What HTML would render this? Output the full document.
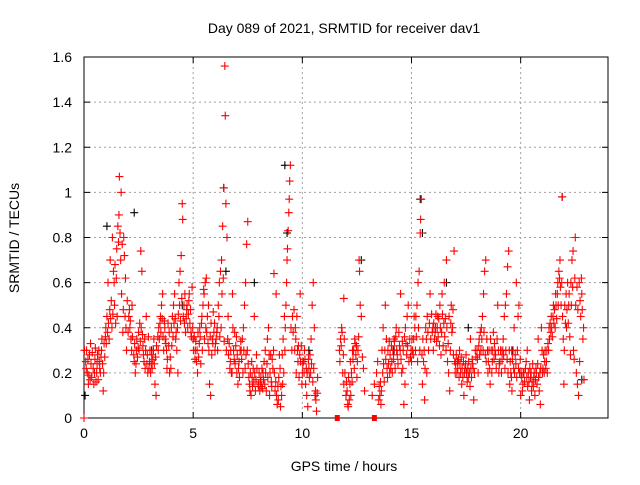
<!DOCTYPE html>
<html><head><meta charset="utf-8"><style>
body{margin:0;background:#fff}
svg text{font-family:"Liberation Sans",sans-serif;font-size:14px;fill:#000}
</style></head><body>
<svg id="c" width="640" height="480" xmlns="http://www.w3.org/2000/svg">
<text x="344" y="33" text-anchor="middle">Day 089 of 2021, SRMTID for receiver dav1</text>
<text x="344" y="471" text-anchor="middle">GPS time / hours</text>
<text transform="translate(19,238) rotate(-90)" text-anchor="middle">SRMTID / TECUs</text>
<g id="grid"></g>
<g id="axes"></g>
<g id="marks"></g>
</svg>
<script>
const xTicks=[0,5,10,15,20];
const yTicks=[0,0.2,0.4,0.6,0.8,1,1.2,1.4,1.6];
const yTickLabels=["0","0.2","0.4","0.6","0.8","1","1.2","1.4","1.6"];
const blackPts=[[0.05,0.1],[1.05,0.85],[2.3,0.91],[6.4,1.02],[6.5,0.65],[9.2,1.12],[9.3,0.82],[15.4,0.97],[15.5,0.82],[21.9,0.98],[22.8,0.17],[3.1,0.3],[7.8,0.6],[12.7,0.7],[17.6,0.4],[19.6,0.3],[4.5,0.5],[10.3,0.3],[14.2,0.3],[16.6,0.6]];
const redPts=[[0.0,0],[0.02,0.3],[0.08,0.25],[0.15,0.2],[0.2,0.15],[0.25,0.28],[0.3,0.33],[0.35,0.18],[0.42,0.22],[0.5,0.26],[0.55,0.16],[0.6,0.24],[0.68,0.3],[0.75,0.2],[0.82,0.35],[0.88,0.12],[0.95,0.27],
[1.0,0.4],[1.05,0.45],[1.1,0.6],[1.2,0.7],[1.3,0.8],[1.35,0.65],[1.4,0.5],[1.45,0.42],[1.5,0.75],[1.55,0.85],[1.6,0.9],[1.62,1.07],[1.7,1.0],[1.72,0.55],[1.78,0.38],[1.8,0.48],[1.85,0.72],[1.9,0.62],[1.95,0.3],[1.98,0.52],
[2.05,0.45],[2.1,0.4],[2.15,0.35],[2.2,0.5],[2.3,0.25],[2.35,0.2],[2.4,0.3],[2.5,0.38],[2.55,0.42],[2.6,0.74],[2.65,0.65],[2.7,0.32],[2.8,0.22],[2.85,0.45],[2.9,0.28],[2.95,0.36],
[3.0,0.25],[3.05,0.2],[3.1,0.28],[3.2,0.35],[3.25,0.15],[3.3,0.1],[3.4,0.3],[3.5,0.45],[3.55,0.5],[3.6,0.55],[3.7,0.4],[3.75,0.33],[3.8,0.22],[3.9,0.38],[3.95,0.27],
[4.0,0.4],[4.05,0.45],[4.1,0.5],[4.15,0.55],[4.2,0.35],[4.25,0.3],[4.3,0.2],[4.35,0.6],[4.4,0.65],[4.45,0.72],[4.5,0.95],[4.52,0.88],[4.6,0.42],[4.7,0.48],[4.8,0.52],[4.9,0.38],[4.95,0.58],
[5.0,0.35],[5.1,0.3],[5.15,0.25],[5.2,0.2],[5.3,0.4],[5.4,0.45],[5.5,0.55],[5.55,0.6],[5.6,0.62],[5.7,0.5],[5.75,0.15],[5.8,0.1],[5.85,0.28],[5.9,0.33],[5.95,0.38],
[6.0,0.3],[6.05,0.35],[6.1,0.4],[6.15,0.5],[6.2,0.6],[6.25,0.65],[6.3,0.7],[6.35,0.85],[6.4,1.02],[6.45,1.56],[6.47,1.34],[6.5,0.95],[6.55,0.8],[6.6,0.45],[6.7,0.25],[6.75,0.2],[6.8,0.55],[6.9,0.38],[6.95,0.32],
[7.0,0.2],[7.05,0.15],[7.1,0.25],[7.2,0.3],[7.25,0.35],[7.3,0.4],[7.35,0.5],[7.4,0.6],[7.45,0.77],[7.5,0.87],[7.6,0.12],[7.7,0.18],[7.75,0.22],[7.8,0.45],[7.9,0.28],
[8.0,0.15],[8.05,0.12],[8.1,0.18],[8.2,0.2],[8.25,0.25],[8.3,0.3],[8.4,0.35],[8.45,0.4],[8.5,0.1],[8.6,0.14],[8.65,0.22],[8.7,0.64],[8.8,0.55],[8.9,0.08],[8.95,0.28],
[9.0,0.05],[9.05,0.1],[9.1,0.15],[9.15,0.2],[9.2,0.3],[9.22,0.4],[9.25,0.5],[9.28,0.6],[9.3,0.7],[9.32,0.75],[9.35,0.83],[9.38,0.91],[9.4,0.97],[9.42,1.05],[9.45,1.12],[9.55,0.45],[9.7,0.35],[9.8,0.25],[9.9,0.55],
[10.0,0.2],[10.05,0.25],[10.1,0.3],[10.15,0.15],[10.2,0.1],[10.25,0.05],[10.3,0.22],[10.35,0.28],[10.4,0.35],[10.45,0.5],[10.5,0.6],[10.55,0.4],[10.6,0.12],[10.65,0.03],[10.7,0.18],
[11.7,0.3],[11.75,0.35],[11.8,0.4],[11.85,0.2],[11.9,0.15],[12.0,0.1],[12.1,0.05],[12.15,0.08],[12.2,0.25],[12.3,0.3],[12.4,0.35],[12.5,0.18],[12.6,0.7],[12.62,0.65],[12.65,0.5],[12.7,0.45],[12.8,0.22],[12.85,0.12],[11.9,0.53],
[13.2,0.1],[13.3,0.15],[13.4,0.2],[13.45,0.25],[13.5,0.08],[13.6,0.06],[13.65,0.3],[13.7,0.4],[13.8,0.5],[13.85,0.35],[13.9,0.18],
[14.0,0.2],[14.1,0.25],[14.15,0.3],[14.2,0.35],[14.3,0.4],[14.35,0.28],[14.45,0.32],[14.5,0.55],[14.6,0.22],[14.65,0.06],[14.7,0.15],[14.8,0.45],[14.85,0.5],[14.95,0.27],
[15.0,0.25],[15.05,0.3],[15.1,0.35],[15.15,0.4],[15.2,0.45],[15.25,0.5],[15.3,0.6],[15.35,0.65],[15.4,0.82],[15.42,0.88],[15.45,0.97],[15.5,0.15],[15.6,0.08],[15.7,0.2],[15.85,0.55],
[16.0,0.3],[16.05,0.35],[16.1,0.4],[16.2,0.45],[16.3,0.5],[16.4,0.55],[16.5,0.6],[16.6,0.7],[16.65,0.25],[16.7,0.2],[16.75,0.12],[16.8,0.42],[16.85,0.38],[16.9,0.48],[16.95,0.74],
[17.0,0.2],[17.1,0.25],[17.2,0.3],[17.3,0.15],[17.4,0.1],[17.45,0.22],[17.5,0.28],[17.6,0.18],[17.7,0.35],[17.8,0.24],[17.85,0.08],[17.95,0.27],
[18.0,0.3],[18.1,0.35],[18.2,0.4],[18.25,0.45],[18.3,0.55],[18.35,0.65],[18.4,0.7],[18.5,0.2],[18.6,0.15],[18.7,0.25],[18.8,0.33],[18.85,0.28],[18.95,0.5],
[19.0,0.2],[19.05,0.25],[19.1,0.3],[19.2,0.35],[19.25,0.45],[19.3,0.5],[19.35,0.55],[19.4,0.67],[19.45,0.74],[19.5,0.15],[19.6,0.12],[19.7,0.4],[19.8,0.6],[19.9,0.22],
[20.0,0.1],[20.1,0.15],[20.15,0.2],[20.25,0.25],[20.3,0.3],[20.4,0.08],[20.5,0.12],[20.6,0.18],[20.7,0.22],[20.8,0.35],[20.9,0.06],[20.95,0.4],
[21.0,0.2],[21.1,0.25],[21.2,0.3],[21.3,0.4],[21.4,0.45],[21.5,0.5],[21.6,0.55],[21.7,0.6],[21.75,0.65],[21.8,0.7],[21.9,0.98],[21.95,0.35],[21.98,0.15],
[22.0,0.3],[22.1,0.4],[22.2,0.5],[22.3,0.6],[22.35,0.7],[22.4,0.74],[22.5,0.8],[22.55,0.2],[22.6,0.15],[22.65,0.1],[22.7,0.25],[22.75,0.45],[22.8,0.55],[22.85,0.35],[22.9,0.17]];
const redDense=[[0.1,0.22],[0.12,0.3],[0.18,0.26],[0.22,0.19],[0.28,0.17],[0.32,0.24],[0.38,0.29],[0.45,0.15],[0.48,0.2],[0.52,0.31],[0.58,0.2],[0.62,0.28],[0.65,0.17],[0.7,0.25],[0.72,0.22],[0.78,0.27],[0.8,0.3],[0.85,0.24],[0.9,0.2],[0.92,0.33],[0.98,0.36],
[1.02,0.33],[1.08,0.38],[1.12,0.42],[1.15,0.35],[1.18,0.48],[1.22,0.44],[1.25,0.52],[1.28,0.4],[1.32,0.46],[1.38,0.6],[1.42,0.68],[1.48,0.62],[1.52,0.45],[1.58,0.78],[1.65,0.82],[1.68,0.7],[1.75,0.77],[1.82,0.8],[1.88,0.45],[1.92,0.4],
[2.02,0.38],[2.08,0.48],[2.12,0.43],[2.18,0.3],[2.22,0.36],[2.28,0.28],[2.32,0.33],[2.38,0.24],[2.42,0.35],[2.45,0.27],[2.48,0.31],[2.52,0.3],[2.58,0.34],[2.62,0.4],[2.68,0.37],[2.72,0.28],[2.75,0.25],[2.78,0.35],[2.82,0.3],[2.88,0.24],[2.92,0.2],[2.98,0.22],
[3.02,0.3],[3.08,0.24],[3.12,0.22],[3.15,0.26],[3.18,0.3],[3.22,0.24],[3.28,0.27],[3.32,0.32],[3.38,0.36],[3.42,0.4],[3.45,0.35],[3.48,0.42],[3.52,0.38],[3.58,0.44],[3.62,0.36],[3.65,0.3],[3.68,0.43],[3.72,0.35],[3.78,0.3],[3.82,0.26],[3.85,0.42],[3.88,0.32],[3.92,0.2],[3.98,0.22],
[4.02,0.32],[4.08,0.36],[4.12,0.42],[4.18,0.44],[4.22,0.38],[4.28,0.4],[4.32,0.46],[4.38,0.5],[4.42,0.43],[4.48,0.53],[4.55,0.45],[4.58,0.5],[4.62,0.55],[4.65,0.38],[4.68,0.44],[4.72,0.5],[4.75,0.4],[4.78,0.46],[4.82,0.55],[4.85,0.42],[4.88,0.48],[4.92,0.36],[4.98,0.4],
[5.02,0.3],[5.05,0.36],[5.08,0.26],[5.12,0.34],[5.18,0.3],[5.22,0.38],[5.25,0.27],[5.28,0.33],[5.32,0.36],[5.35,0.24],[5.38,0.42],[5.42,0.3],[5.45,0.5],[5.48,0.57],[5.52,0.35],[5.58,0.4],[5.62,0.38],[5.65,0.45],[5.68,0.33],[5.72,0.3],[5.78,0.36],[5.82,0.42],[5.88,0.35],[5.92,0.47],[5.98,0.42],
[6.02,0.33],[6.08,0.38],[6.12,0.3],[6.18,0.45],[6.22,0.36],[6.28,0.4],[6.32,0.55],[6.38,0.62],[6.42,0.34],[6.52,0.3],[6.58,0.35],[6.62,0.28],[6.65,0.33],[6.68,0.22],[6.72,0.3],[6.78,0.2],[6.82,0.4],[6.85,0.3],[6.88,0.26],[6.92,0.24],[6.98,0.36],
[7.02,0.28],[7.08,0.22],[7.12,0.18],[7.15,0.3],[7.18,0.34],[7.22,0.26],[7.28,0.2],[7.32,0.3],[7.38,0.22],[7.42,0.28],[7.48,0.3],[7.52,0.24],[7.55,0.18],[7.58,0.15],[7.62,0.2],[7.65,0.1],[7.68,0.25],[7.72,0.14],[7.78,0.16],[7.82,0.2],[7.85,0.12],[7.88,0.17],[7.92,0.22],[7.98,0.14],
[8.02,0.2],[8.08,0.16],[8.12,0.14],[8.15,0.22],[8.18,0.13],[8.22,0.17],[8.28,0.15],[8.32,0.2],[8.35,0.12],[8.38,0.24],[8.42,0.18],[8.48,0.28],[8.52,0.2],[8.55,0.28],[8.58,0.16],[8.62,0.26],[8.68,0.3],[8.72,0.2],[8.75,0.12],[8.78,0.16],[8.82,0.1],[8.85,0.06],[8.88,0.14],[8.92,0.18],[8.98,0.22],
[9.02,0.14],[9.08,0.28],[9.12,0.35],[9.18,0.45],[9.48,0.4],[9.52,0.3],[9.58,0.38],[9.62,0.48],[9.65,0.3],[9.68,0.4],[9.72,0.2],[9.75,0.45],[9.78,0.3],[9.82,0.32],[9.85,0.18],[9.88,0.28],[9.92,0.25],[9.95,0.32],[9.98,0.15],
[10.02,0.24],[10.08,0.2],[10.12,0.26],[10.18,0.22],[10.22,0.2],[10.28,0.26],[10.32,0.18],[10.38,0.2],[10.42,0.24],[10.48,0.16],[10.52,0.22],[10.58,0.1],[10.62,0.08],[10.68,0.11],
[11.72,0.25],[11.78,0.32],[11.82,0.38],[11.88,0.28],[11.92,0.35],[11.95,0.2],[12.02,0.16],[12.05,0.12],[12.08,0.06],[12.12,0.18],[12.18,0.15],[12.22,0.1],[12.25,0.2],[12.28,0.16],[12.32,0.26],[12.35,0.3],[12.38,0.22],[12.42,0.33],[12.45,0.28],[12.48,0.32],[12.52,0.25],[12.55,0.3],[12.58,0.36],[12.75,0.27],
[13.52,0.14],[13.55,0.1],[13.58,0.16],[13.62,0.12],[13.68,0.2],[13.72,0.24],[13.75,0.16],[13.78,0.3],[13.82,0.26],[13.88,0.22],[13.92,0.3],[13.95,0.24],[13.98,0.34],
[14.02,0.28],[14.05,0.22],[14.08,0.32],[14.12,0.2],[14.18,0.26],[14.22,0.34],[14.25,0.22],[14.28,0.36],[14.32,0.3],[14.38,0.24],[14.42,0.38],[14.48,0.3],[14.52,0.26],[14.55,0.2],[14.58,0.34],[14.62,0.3],[14.68,0.36],[14.72,0.4],[14.75,0.33],[14.78,0.28],[14.82,0.32],[14.88,0.25],[14.92,0.35],[14.98,0.3],
[15.02,0.35],[15.08,0.28],[15.12,0.45],[15.18,0.3],[15.22,0.36],[15.28,0.25],[15.32,0.4],[15.38,0.3],[15.48,0.28],[15.52,0.35],[15.55,0.25],[15.58,0.3],[15.62,0.22],[15.65,0.4],[15.68,0.35],[15.72,0.45],[15.75,0.38],[15.78,0.3],[15.82,0.42],[15.88,0.35],[15.92,0.46],[15.95,0.38],[15.98,0.4],
[16.02,0.42],[16.08,0.38],[16.12,0.46],[16.15,0.34],[16.18,0.4],[16.22,0.36],[16.25,0.44],[16.28,0.32],[16.32,0.4],[16.35,0.28],[16.38,0.38],[16.42,0.46],[16.45,0.32],[16.48,0.42],[16.52,0.36],[16.55,0.44],[16.58,0.3],[16.62,0.4],[16.68,0.33],[16.72,0.45],[16.78,0.3],[16.82,0.5],[16.88,0.4],[16.92,0.28],[16.98,0.25],
[17.02,0.24],[17.05,0.28],[17.08,0.2],[17.12,0.22],[17.15,0.26],[17.18,0.18],[17.22,0.24],[17.25,0.2],[17.28,0.27],[17.32,0.22],[17.35,0.18],[17.38,0.25],[17.42,0.2],[17.48,0.24],[17.52,0.2],[17.55,0.16],[17.58,0.22],[17.62,0.25],[17.65,0.2],[17.68,0.14],[17.72,0.22],[17.75,0.18],[17.78,0.26],[17.82,0.22],[17.88,0.2],[17.92,0.3],
[18.02,0.26],[18.05,0.2],[18.08,0.32],[18.12,0.28],[18.15,0.38],[18.18,0.3],[18.22,0.35],[18.28,0.3],[18.32,0.38],[18.38,0.28],[18.42,0.25],[18.45,0.35],[18.48,0.3],[18.52,0.25],[18.55,0.3],[18.58,0.22],[18.62,0.35],[18.65,0.3],[18.68,0.2],[18.72,0.3],[18.75,0.38],[18.78,0.26],[18.82,0.3],[18.88,0.22],[18.92,0.35],[18.98,0.3],
[19.02,0.24],[19.08,0.3],[19.12,0.2],[19.15,0.26],[19.18,0.3],[19.22,0.28],[19.28,0.22],[19.32,0.3],[19.38,0.26],[19.42,0.2],[19.48,0.3],[19.52,0.25],[19.55,0.2],[19.58,0.18],[19.62,0.26],[19.65,0.3],[19.68,0.22],[19.72,0.2],[19.75,0.28],[19.78,0.24],[19.82,0.18],[19.85,0.3],[19.88,0.45],[19.92,0.5],[19.95,0.2],[19.98,0.26],
[20.02,0.2],[20.05,0.18],[20.08,0.12],[20.12,0.2],[20.18,0.16],[20.22,0.22],[20.28,0.18],[20.32,0.14],[20.35,0.2],[20.38,0.16],[20.42,0.22],[20.45,0.18],[20.48,0.2],[20.52,0.16],[20.55,0.24],[20.58,0.14],[20.62,0.2],[20.65,0.1],[20.68,0.17],[20.72,0.2],[20.75,0.15],[20.78,0.24],[20.82,0.18],[20.85,0.12],[20.88,0.2],[20.92,0.22],[20.98,0.3],
[21.02,0.22],[21.05,0.28],[21.08,0.2],[21.12,0.3],[21.15,0.22],[21.18,0.25],[21.22,0.2],[21.25,0.33],[21.28,0.3],[21.32,0.35],[21.35,0.42],[21.38,0.38],[21.42,0.4],[21.45,0.36],[21.48,0.45],[21.52,0.42],[21.55,0.48],[21.58,0.4],[21.62,0.5],[21.65,0.44],[21.68,0.55],[21.72,0.5],[21.78,0.62],[21.82,0.58],[21.85,0.5],[21.88,0.6],[21.92,0.45],
[22.02,0.5],[22.05,0.42],[22.08,0.55],[22.12,0.48],[22.15,0.6],[22.18,0.42],[22.22,0.55],[22.25,0.36],[22.28,0.28],[22.32,0.5],[22.38,0.58],[22.42,0.3],[22.45,0.26],[22.48,0.62],[22.52,0.5],[22.58,0.58],[22.62,0.48],[22.68,0.6],[22.72,0.52],[22.78,0.62],[22.82,0.48],[22.88,0.4]];
const gapPts=[[11.6,0],[13.3,0]];
const L=84,R=608,T=57,B=418,XMAX=24,YMAX=1.6;
const sx=v=>L+v/XMAX*(R-L), sy=v=>B-v/YMAX*(B-T);
const NS="http://www.w3.org/2000/svg";
function mk(t,a,p){const e=document.createElementNS(NS,t);for(const k in a)e.setAttribute(k,a[k]);p.appendChild(e);return e;}
const grid=document.getElementById('grid'),axes=document.getElementById('axes'),marks=document.getElementById('marks');
xTicks.forEach(v=>{const x=sx(v);
 if(v>0){const g=mk('line',{x1:x,x2:x,y1:T,y2:B,stroke:'#a0a0a0','stroke-dasharray':'2,3'},grid);}
 mk('line',{x1:x,x2:x,y1:B,y2:B-6,stroke:'#000'},axes);mk('line',{x1:x,x2:x,y1:T,y2:T+6,stroke:'#000'},axes);
 const t=mk('text',{x:x,y:B+20,'text-anchor':'middle'},axes);t.textContent=v;
 });
yTicks.forEach((v,i)=>{const y=sy(v);
 if(v>0&&v<YMAX){const g=mk('line',{x1:L,x2:R,y1:y,y2:y,stroke:'#a0a0a0','stroke-dasharray':'2,3'},grid);}
 mk('line',{x1:L,x2:L+6,y1:y,y2:y,stroke:'#000'},axes);mk('line',{x1:R,x2:R-6,y1:y,y2:y,stroke:'#000'},axes);
 const t=mk('text',{x:L-12,y:y+5,'text-anchor':'end'},axes);t.textContent=yTickLabels[i];
 });
const fr=mk('rect',{x:L,y:T,width:R-L,height:B-T,fill:'none',stroke:'#000'},axes);

function plus(p,col){const x=sx(p[0]),y=sy(p[1]);
 const e=mk('path',{d:`M${x-4},${y}h8M${x},${y-4}v8`,stroke:col,'stroke-width':1.1,fill:'none'},marks);
 }
blackPts.forEach(p=>plus(p,'#000'));
redPts.forEach(p=>plus(p,'#f00'));
redDense.forEach(p=>plus(p,'#f00'));
gapPts.forEach(p=>{const r=mk('rect',{x:sx(p[0])-2.5,y:sy(p[1])-3,width:5,height:6,fill:'#f00'},marks);
 });
</script>
</body></html>
